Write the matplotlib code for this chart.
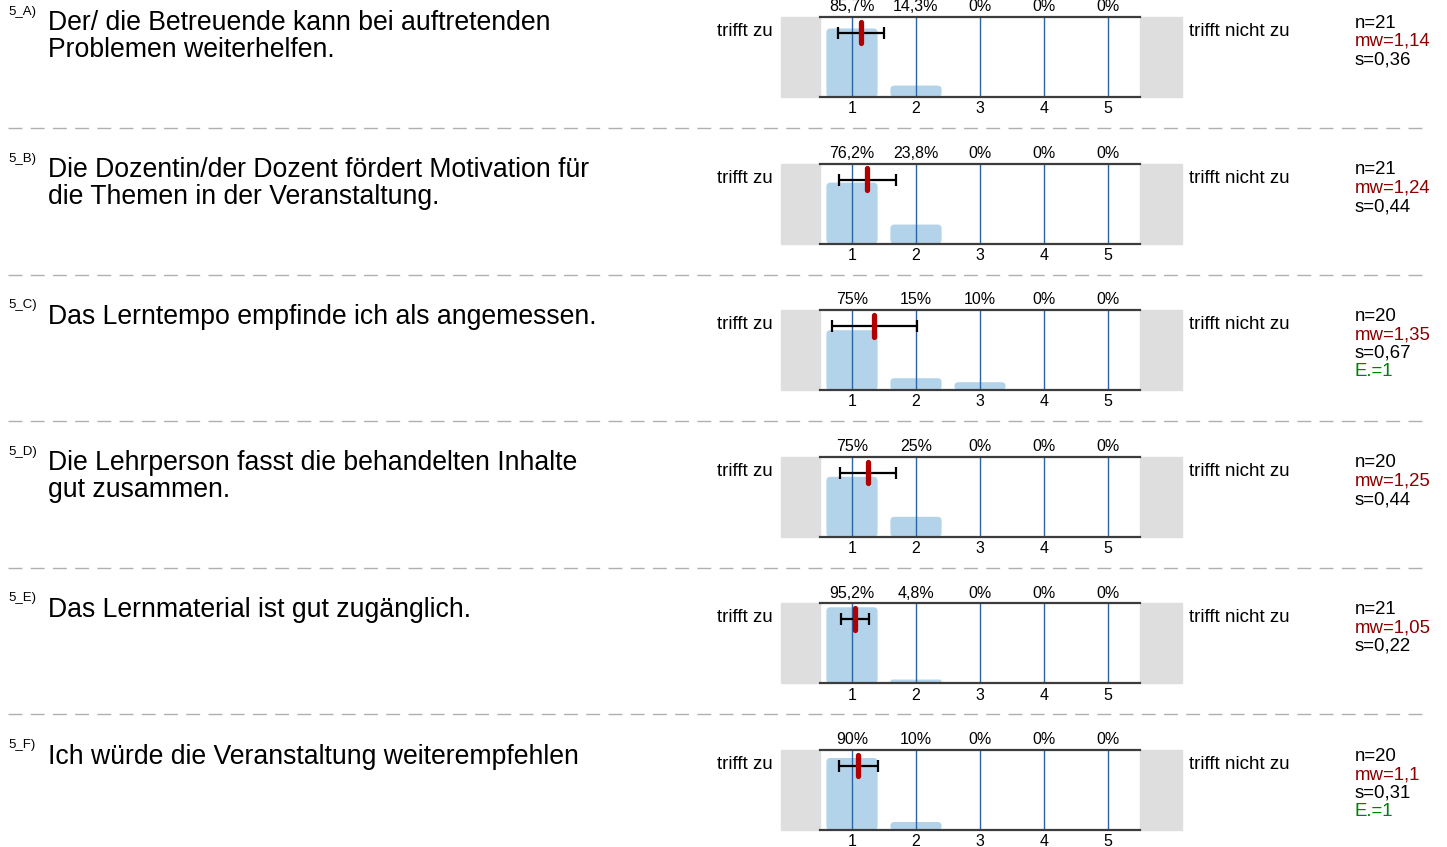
import numpy as np
import matplotlib.pyplot as plt
from matplotlib.patches import Rectangle, FancyBboxPatch

plt.rcParams['font.family'] = ['Liberation Sans', 'DejaVu Sans']

codes = ['5_A)', '5_B)', '5_C)', '5_D)', '5_E)', '5_F)']
questions = [
    'Der/ die Betreuende kann bei auftretenden\nProblemen weiterhelfen.',
    'Die Dozentin/der Dozent fördert Motivation für\ndie Themen in der Veranstaltung.',
    'Das Lerntempo empfinde ich als angemessen.',
    'Die Lehrperson fasst die behandelten Inhalte\ngut zusammen.',
    'Das Lernmaterial ist gut zugänglich.',
    'Ich würde die Veranstaltung weiterempfehlen',
]
scale = [1, 2, 3, 4, 5]
percents = [
    [85.7, 14.3, 0, 0, 0],
    [76.2, 23.8, 0, 0, 0],
    [75, 15, 10, 0, 0],
    [75, 25, 0, 0, 0],
    [95.2, 4.8, 0, 0, 0],
    [90, 10, 0, 0, 0],
]
n_vals = [21, 21, 20, 20, 21, 20]
means = [1.14, 1.24, 1.35, 1.25, 1.05, 1.1]
stds = [0.36, 0.44, 0.67, 0.44, 0.22, 0.31]
abst = [None, None, 1, None, None, 1]
left_label = 'trifft zu'
right_label = 'trifft nicht zu'

W, H = 1447, 847
fig = plt.figure(figsize=(W / 100, H / 100), dpi=100)


def fx(x):
    return x / W


def fy(y):
    return 1 - y / H


def de(v):
    s = ('%.2f' % v).rstrip('0').rstrip('.')
    return s.replace('.', ',')


def pct(v):
    s = ('%.1f' % v).rstrip('0').rstrip('.')
    return s.replace('.', ',') + '%'


row_h = 146.6
bar_w = 0.8
# axes: 320 px wide for 5 units, 80 px high for 100 units
aspect = (100 / 80) / (5 / 320)
for i in range(len(questions)):
    y0 = 17 + i * row_h

    # question text
    fig.text(fx(8), fy(y0 - 2), codes[i], fontsize=9.5, va='baseline', ha='left')
    for j, line in enumerate(questions[i].split('\n')):
        fig.text(fx(48), fy(y0 + 13.5 + j * 26.5), line, fontsize=19.2,
                 va='baseline', ha='left')

    # chart
    ax = fig.add_axes([fx(820), fy(y0 + 80), fx(1140) - fx(820), 80 / H])
    ax.set_xlim(0.5, 5.5)
    ax.set_ylim(0, 100)
    for x, p in zip(scale, percents[i]):
        if p <= 0:
            continue
        r = min(4 * 5 / 320, p / aspect / 2)
        ax.add_patch(FancyBboxPatch((x - bar_w / 2, 0), bar_w, p,
                                    boxstyle='round,pad=0,rounding_size=%f' % r,
                                    mutation_aspect=aspect, fc='#b3d3ea',
                                    ec='none', zorder=1))
    for x in scale:
        ax.axvline(x, color='#2b65a6', lw=1, zorder=2)
    for sp in ['left', 'right']:
        ax.spines[sp].set_visible(False)
    for sp in ['top', 'bottom']:
        ax.spines[sp].set_color('#3c3c3c')
        ax.spines[sp].set_linewidth(1.6)
        ax.spines[sp].set_zorder(5)
    ax.set_yticks([])
    ax.set_xticks(scale)
    ax.tick_params(axis='x', length=0, pad=3, labelsize=11.5)
    for x, p in zip(scale, percents[i]):
        ax.text(x, 1.035, pct(p), transform=ax.get_xaxis_transform(),
                ha='center', va='bottom', fontsize=11.5)

    ax.errorbar(means[i], 80, xerr=stds[i], color='black', lw=1.6,
                capsize=4, capthick=1.6, zorder=3)
    ax.plot([means[i], means[i]], [67, 94], color='#b00000', lw=3.8,
            solid_capstyle='round', zorder=4)

    # gray side boxes
    ax.add_patch(Rectangle((-39 / 320, 0), 39 / 320, 1, transform=ax.transAxes,
                           color='#dedede', clip_on=False, zorder=0))
    ax.add_patch(Rectangle((1, 0), 42 / 320, 1, transform=ax.transAxes,
                           color='#dedede', clip_on=False, zorder=0))

    fig.text(fx(773), fy(y0 + 14.5), left_label, fontsize=13.5, ha='right', va='center')
    fig.text(fx(1189), fy(y0 + 14.5), right_label, fontsize=13.5, ha='left', va='center')

    # stats
    stats = [('n=%d' % n_vals[i], 'black'),
             ('mw=' + de(means[i]), '#8b0000'),
             ('s=' + de(stds[i]), 'black')]
    if abst[i] is not None:
        stats.append(('E.=%d' % abst[i], '#008000'))
    for k, (t, c) in enumerate(stats):
        fig.text(fx(1355), fy(y0 + 6 + k * 18.5), t, fontsize=13.4,
                 color=c, ha='left', va='center')

    # separator
    if i < len(questions) - 1:
        ys = fy(y0 + 111)
        fig.add_artist(plt.Line2D([fx(8), fx(1430)], [ys, ys], color='#b0b0b0',
                                  lw=1, ls=(0, (10, 6))))

fig.savefig('out.png', dpi=100)
